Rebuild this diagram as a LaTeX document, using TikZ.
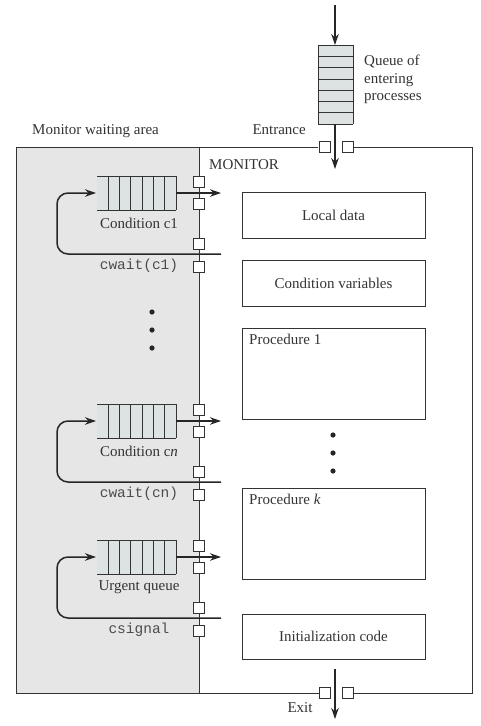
\documentclass[tikz,border=0pt]{standalone}
\usepackage{fontspec}
\setmainfont{Liberation Serif}
\setmonofont{Liberation Mono}
\usetikzlibrary{arrows.meta}
\definecolor{waitgray}{HTML}{E6E6E6}
\definecolor{qfill}{HTML}{DDE3E3}
\definecolor{ink}{HTML}{333333}
\begin{document}
\begin{tikzpicture}[x=1pt,y=-1pt,
  every node/.style={font=\fontsize{15}{17.5}\selectfont,text=ink,inner sep=0pt},
  boxline/.style={draw=ink,line width=0.9pt},
  thin line/.style={draw=ink,line width=0.8pt},
  flow/.style={draw=black!85,line width=1.5pt,-{Stealth[length=11pt,width=7.5pt]}},
  loopline/.style={draw=black!85,line width=1.5pt,rounded corners=11pt,-{Stealth[length=11pt,width=7.5pt]}},
  gate/.style={draw=ink,fill=white,line width=0.8pt,minimum width=11pt,minimum height=11pt,inner sep=0pt},
  codebox/.style={draw=ink,line width=0.9pt,minimum width=183pt},
  codetext/.style={font=\ttfamily\fontsize{14.5}{17}\selectfont,text=black!70}
]
\useasboundingbox (0,0) rectangle (480,726);
% waiting area
\fill[waitgray] (16,147) rectangle (199,693);
% outer monitor frame
\draw[boxline] (318,147) -- (16,147) -- (16,693) -- (319,693);
\draw[boxline] (353,693) -- (472,693) -- (472,147) -- (353,147);
\draw[thin line] (199,147) -- (199,693);
% entrance queue
\fill[qfill] (318,45) rectangle (353,124);
\foreach \yy in {45,56.3,67.6,78.9,90.1,101.4,112.7,124}
  \draw[thin line] (318,\yy) -- (353,\yy);
\draw[thin line] (318,45) -- (318,124) (353,45) -- (353,124);
\coordinate (qtopin) at (335,5);
\coordinate (qtop) at (335,45);
\coordinate (qbot) at (335,124);
\coordinate (inmon) at (335,169);
\draw[flow] (qtopin) -- (qtop);
\draw[flow] (qbot) -- (inmon);
\node[gate] (en1) at (324.5,147) {};
\node[gate] (en2) at (347.5,147) {};
\node[gate] (ex1) at (324.5,693) {};
\node[gate] (ex2) at (347.5,693) {};
\coordinate (exin) at (335,669);
\coordinate (exout) at (335,719);
\draw[flow] (exin) -- (exout);
% labels
\node[anchor=west,align=left] (qlabel) at (364,79.5) {Queue of\\entering\\processes};
\node[anchor=east] (entr) at (306,130) {Entrance};
\node[anchor=west] (mwa) at (32,131) {Monitor waiting area};
\node[anchor=west] (mon) at (209,165) {MONITOR};
\node (exitlbl) at (300,708) {Exit};
% waiting queues
\foreach \nm/\T/\lab/\code in {c1/176/{Condition c1}/{cwait(c1)},cn/404/{Condition c\textit{n}}/{cwait(cn)},u/540/{Urgent queue}/{csignal}}{
  \fill[qfill] (97,\T) rectangle (176,\T+34);
  \draw[thin line] (97,\T) -- (176,\T) (97,\T+34) -- (176,\T+34);
  \foreach \xx in {108,119.3,130.7,142,153.3,164.7,176}
    \draw[thin line] (\xx,\T) -- (\xx,\T+34);
  \coordinate (\nm-in) at (96,\T+17);
  \coordinate (\nm-out) at (176,\T+17);
  \coordinate (\nm-outend) at (221,\T+17);
  \coordinate (\nm-back) at (221,\T+78);
  \draw[flow] (\nm-out) -- (\nm-outend);
  \draw[loopline] (\nm-back) -- (57,\T+78) -- (57,\T+17) -- (\nm-in);
  \node[gate] (\nm-g1) at (199,\T+6) {};
  \node[gate] (\nm-g2) at (199,\T+28) {};
  \node[gate] (\nm-g3) at (199,\T+68) {};
  \node[gate] (\nm-g4) at (199,\T+90.5) {};
  \node (\nm-lab) at (139,\T+47) {\lab};
  \node[codetext] (\nm-code) at (139,\T+90) {\code};
}
% dots
\foreach \yy [count=\i] in {312,330,348} \fill[black!85] (152,\yy) circle (2.6pt) coordinate (ldot\i);
\foreach \yy [count=\i] in {435,453,471} \fill[black!85] (333,\yy) circle (2.6pt) coordinate (rdot\i);
% monitor boxes
\node[codebox,minimum height=46pt] (local) at (333.5,215) {Local data};
\node[codebox,minimum height=46pt] (condv) at (333.5,283) {Condition variables};
\draw[boxline] (242,328) rectangle (425,419);
\node[anchor=west] (proc1) at (249,339) {Procedure 1};
\draw[boxline] (242,488) rectangle (425,579);
\node[anchor=west] (prock) at (249,499) {Procedure \textit{k}};
\node[codebox,minimum height=45pt] (init) at (333.5,636.5) {Initialization code};
\end{tikzpicture}
\end{document}
